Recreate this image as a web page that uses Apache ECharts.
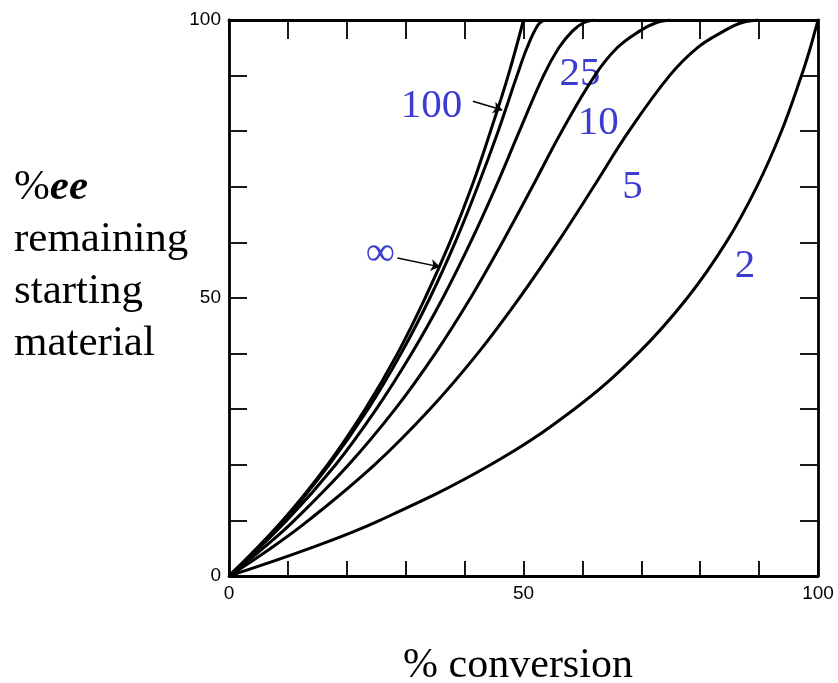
<!DOCTYPE html>
<html>
<head>
<meta charset="utf-8">
<title>%ee vs % conversion</title>
<script src="https://cdn.jsdelivr.net/npm/echarts@6/dist/echarts.min.js"></script>
<style>
    html, body { margin: 0; padding: 0; background: #fff; }
    #e_charts { width: 838px; height: 683px; }
</style>
</head>
<body>
<div id="e_charts"></div>
<script>
// [% conversion, %ee]
var curveS2 = [[0, 0], [13.8, 5], [25.6, 10], [44.4, 20], [58.6, 30], [69.4, 40], [77.8, 50], [84.4, 60], [89.6, 70], [93.8, 80], [97.2, 90], [98.7, 95], [99.75, 99], [100, 100]];
var curveS5 = [[0, 0], [7.1, 5], [13.5, 10], [24.7, 20], [34.1, 30], [42.2, 40], [49.3, 50], [55.8, 60], [61.9, 70], [67.9, 80], [74.8, 90], [79.5, 95], [84.0, 98], [87.0, 99.5], [90.0, 100]];
var curveS10 = [[0, 0], [5.8, 5], [11.1, 10], [20.3, 20], [28.2, 30], [35.0, 40], [41.0, 50], [46.4, 60], [51.5, 70], [56.5, 80], [62.1, 90], [65.9, 95], [69.7, 98], [72.5, 99.5], [75.0, 100]];
var curveS25 = [[0, 0], [9.8, 10], [18.1, 20], [25.0, 30], [31.0, 40], [36.3, 50], [41.0, 60], [45.3, 70], [49.3, 80], [53.4, 90], [56.0, 95], [58.3, 98], [60.2, 99.5], [62.0, 100]];
var curveS100 = [[0, 0], [9.3, 10], [17.0, 20], [23.6, 30], [29.2, 40], [34.1, 50], [38.4, 60], [42.2, 70], [45.7, 80], [48.9, 90], [50.6, 95], [52.4, 99], [53.5, 100]];
var curveInf = [[0, 0], [9.1, 10], [16.7, 20], [23.1, 30], [28.6, 40], [33.3, 50], [37.5, 60], [41.2, 70], [44.4, 80], [47.4, 90], [50, 100]];

var tickLabels = [0, 50, 100];

// curve names and where they sit (data coords)
var curveLabels = [
    { text: '100', at: [34.4, 84.5] },
    { text: '25', at: [59.6, 90.3] },
    { text: '10', at: [62.7, 81.5] },
    { text: '5', at: [68.5, 70.0] },
    { text: '2', at: [87.6, 55.8] },
    { text: '\u221e', at: [25.7, 57.9] }
];
var arrows = [
    { from: [41.4, 85.4], to: [46.4, 83.8] },
    { from: [28.6, 57.2], to: [35.8, 55.6] }
];

var blue = '#3c3cd0';
var serif = '"Liberation Serif", "DejaVu Serif", serif';

var myChart = echarts.init(document.getElementById('e_charts'));

var makeAxis = function (pos, showLabels, tickLen) {
    return {
        type: 'value',
        position: pos,
        min: 0,
        max: 100,
        interval: 10,
        axisLine: { show: true, onZero: false, lineStyle: { color: '#000', width: 2.8 } },
        axisTick: { show: true, inside: true, length: tickLen, lineStyle: { color: '#000', width: 1.8 } },
        axisLabel: {
            show: showLabels,
            color: '#000',
            fontFamily: '"Liberation Sans", Arial, sans-serif',
            fontSize: 19,
            margin: 8,
            formatter: function (v) {
                return tickLabels.indexOf(v) >= 0 ? String(v) : '';
            }
        },
        splitLine: { show: false }
    };
};

var makeLine = function (data) {
    return {
        type: 'line',
        xAxisIndex: 0,
        yAxisIndex: 0,
        data: data,
        showSymbol: false,
        symbol: 'none',
        smooth: 0.4,
        lineStyle: { color: '#000', width: 3 }
    };
};

var arrowSeries = {
    type: 'lines',
    coordinateSystem: 'cartesian2d',
    xAxisIndex: 0,
    yAxisIndex: 0,
    symbol: ['none', 'arrow'],
    symbolSize: 9,
    lineStyle: { color: '#000', width: 1.5, opacity: 1 },
    data: arrows.map(function (a) { return { coords: [a.from, a.to] }; }),
    z: 5
};

myChart.setOption({
    animation: false,
    grid: { left: 229, right: 20, top: 20, bottom: 107 },
    xAxis: [makeAxis('bottom', true, 15), makeAxis('top', false, 19)],
    yAxis: [makeAxis('left', true, 18), makeAxis('right', false, 18)],
    series: [
        makeLine(curveS2),
        makeLine(curveS5),
        makeLine(curveS10),
        makeLine(curveS25),
        makeLine(curveS100),
        makeLine(curveInf),
        arrowSeries
    ]
});

var graphics = curveLabels.map(function (l) {
    var p = myChart.convertToPixel({ gridIndex: 0 }, l.at);
    return {
        type: 'text',
        x: p[0],
        y: p[1],
        style: {
            text: l.text,
            fill: blue,
            font: '41px ' + serif,
            textAlign: 'center',
            textVerticalAlign: 'middle'
        }
    };
});

graphics.push({
    type: 'text',
    left: 14,
    top: 162,
    style: {
        text: '{a|%}{b|ee}\nremaining\nstarting\nmaterial',
        fill: '#000',
        font: '43px ' + serif,
        lineHeight: 52,
        rich: {
            a: { fontFamily: serif, fontSize: 43, lineHeight: 52 },
            b: { fontFamily: serif, fontSize: 43, fontWeight: 'bold', fontStyle: 'italic', lineHeight: 52 }
        }
    }
});
graphics.push({
    type: 'text',
    x: 518,
    y: 666,
    style: {
        text: '% conversion',
        fill: '#000',
        font: '42px ' + serif,
        textAlign: 'center',
        textVerticalAlign: 'middle'
    }
});

myChart.setOption({ graphic: graphics });
</script>
</body>
</html>
